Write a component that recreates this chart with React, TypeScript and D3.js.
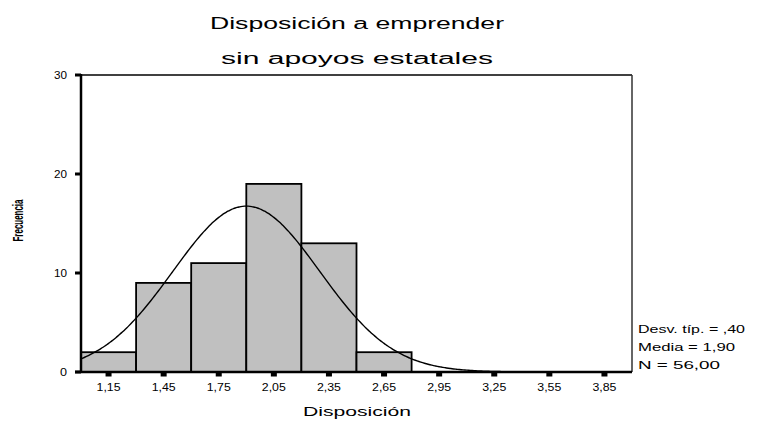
import React from "react";
import * as d3 from "d3";

const binCenters = [1.15, 1.45, 1.75, 2.05, 2.35, 2.65];
const binCounts = [2, 9, 11, 19, 13, 2];
const xTickValues = [1.15, 1.45, 1.75, 2.05, 2.35, 2.65, 2.95, 3.25, 3.55, 3.85];
const xTickLabels = ["1,15", "1,45", "1,75", "2,05", "2,35", "2,65", "2,95", "3,25", "3,55", "3,85"];
const yTickValues = [0, 10, 20, 30];
const statLines = ["Desv. típ. = ,40", "Media = 1,90", "N = 56,00"];
const statWidths = [107, 97, 82];
const titleLines = ["Disposición a emprender", "sin apoyos estatales"];
const MEAN = 1.9;
const SD = 0.4;
const N = 56;
const BIN_WIDTH = 0.3;

const W = 774;
const H = 423;
const FONT = "'Liberation Sans', Arial, sans-serif";

export default function App() {
  const x = d3.scaleLinear().domain([1.0, 4.0]).range([81, 632]);
  const y = d3.scaleLinear().domain([0, 30]).range([372, 75]);

  const curvePts: [number, number][] = d3.range(1.0, 4.0001, 0.01).map((v) => {
    const z = (v - MEAN) / SD;
    const f = (N * BIN_WIDTH) / (SD * Math.sqrt(2 * Math.PI)) * Math.exp(-0.5 * z * z);
    return [v, f];
  });
  const line = d3
    .line<[number, number]>()
    .x((d) => x(d[0]))
    .y((d) => y(d[1]))
    .curve(d3.curveMonotoneX);

  return (
    <svg width={W} height={H} style={{ position: "absolute", left: 0, top: 0, background: "#fff" }}>
      <rect x={0} y={0} width={W} height={H} fill="#fff" />
      {/* titles */}
      <text x={357} y={29} textAnchor="middle" fontFamily={FONT} fontSize={16} textLength={294} lengthAdjust="spacingAndGlyphs">
        {titleLines[0]}
      </text>
      <text x={357} y={64} textAnchor="middle" fontFamily={FONT} fontSize={16} textLength={272} lengthAdjust="spacingAndGlyphs">
        {titleLines[1]}
      </text>

      {/* frame top/right */}
      <line x1={x(1.0)} x2={x(4.0)} y1={y(30)} y2={y(30)} stroke="#000" strokeWidth={1.5} />
      <line x1={x(4.0)} x2={x(4.0)} y1={y(30)} y2={y(0)} stroke="#333" strokeWidth={1.5} />

      {/* bars */}
      {binCenters.map((c, i) => (
        <rect
          key={i}
          x={x(c - BIN_WIDTH / 2)}
          y={y(binCounts[i])}
          width={x(c + BIN_WIDTH / 2) - x(c - BIN_WIDTH / 2)}
          height={y(0) - y(binCounts[i])}
          fill="#c0c0c0"
          stroke="#000"
          strokeWidth={1.8}
        />
      ))}

      {/* normal curve */}
      <path d={line(curvePts) || ""} fill="none" stroke="#000" strokeWidth={1.4} />

      {/* axes */}
      <line x1={x(1.0)} x2={x(1.0)} y1={y(30) - 1} y2={y(0) + 1} stroke="#000" strokeWidth={2.5} />
      <line x1={x(1.0) - 6} x2={x(4.0)} y1={y(0)} y2={y(0)} stroke="#000" strokeWidth={2.5} />

      {yTickValues.map((v) => (
        <g key={v}>
          <line x1={x(1.0) - 6} x2={x(1.0)} y1={y(v)} y2={y(v)} stroke="#000" strokeWidth={3} />
          <text x={67} y={y(v) + 4} textAnchor="end" fontFamily={FONT} fontSize={11.5} textLength={v === 0 ? 7 : 13} lengthAdjust="spacingAndGlyphs">
            {v}
          </text>
        </g>
      ))}

      {xTickValues.map((v, i) => (
        <g key={v}>
          <rect x={x(v) - 3} y={y(0) + 1} width={6} height={3.5} fill="#000" />
          <text x={x(v)} y={391} textAnchor="middle" fontFamily={FONT} fontSize={11.5} textLength={24} lengthAdjust="spacingAndGlyphs">
            {xTickLabels[i]}
          </text>
        </g>
      ))}

      {/* axis titles */}
      <text x={357} y={416} textAnchor="middle" fontFamily={FONT} fontSize={13.5} textLength={108} lengthAdjust="spacingAndGlyphs">
        Disposición
      </text>
      <text
        transform={`translate(23, ${y(15) - 3}) rotate(-90)`}
        textAnchor="middle"
        fontFamily={FONT}
        fontSize={14}
        fontWeight="bold"
        textLength={42}
        lengthAdjust="spacingAndGlyphs"
      >
        Frecuencia
      </text>

      {/* stats */}
      {statLines.map((s, i) => (
        <text key={i} x={638} y={333 + i * 18} fontFamily={FONT} fontSize={11.5} textLength={statWidths[i]} lengthAdjust="spacingAndGlyphs">
          {s}
        </text>
      ))}
    </svg>
  );
}
